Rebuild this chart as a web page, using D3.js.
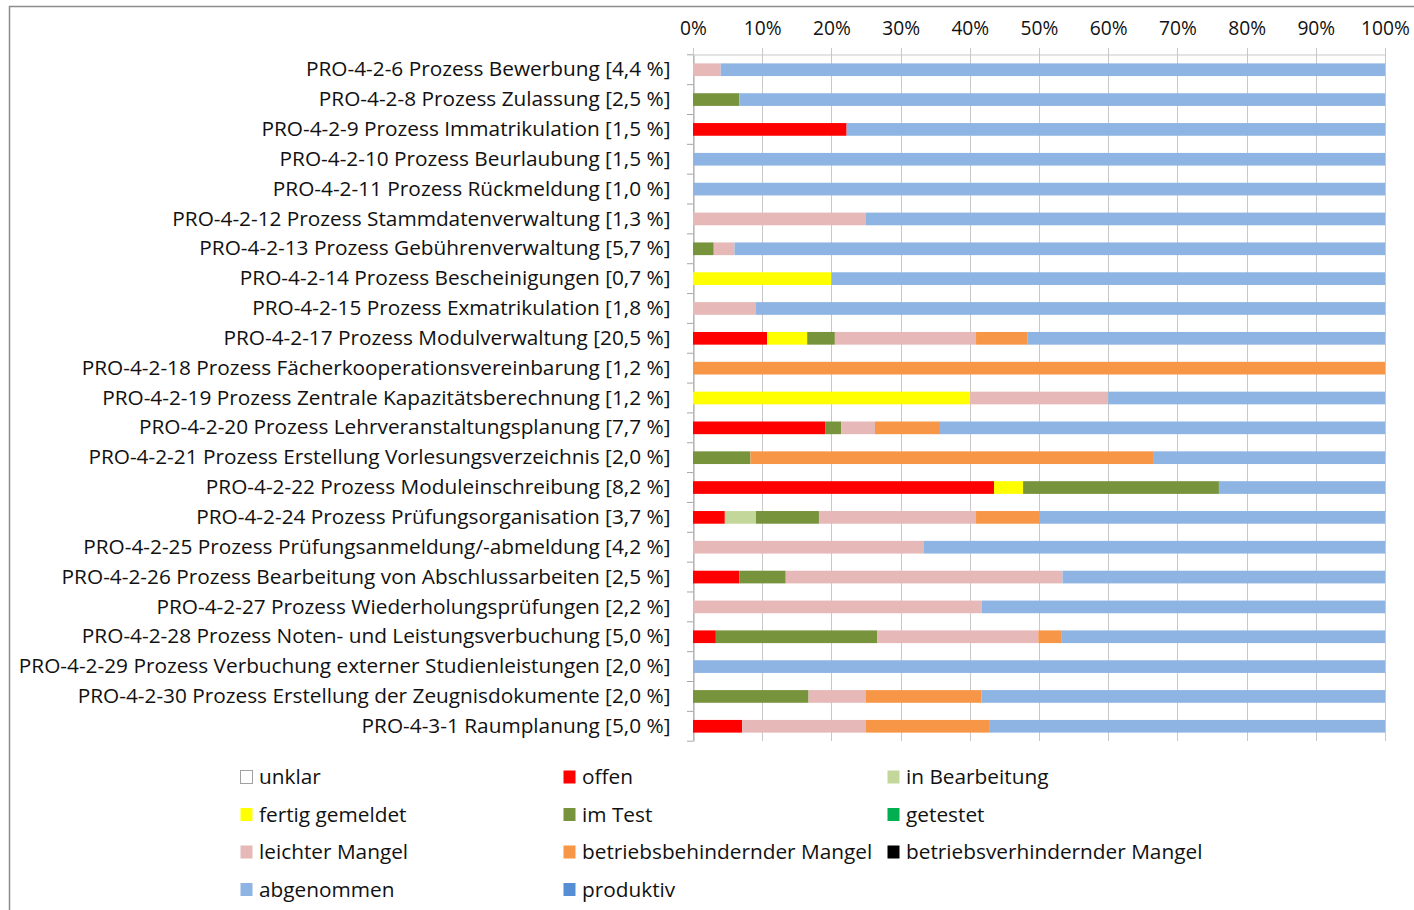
<!DOCTYPE html>
<html>
<head>
<meta charset="utf-8">
<script src="https://cdn.jsdelivr.net/npm/d3@7"></script>
<style>
body { margin: 0; background: #fff; }
text { font-family: "Open Sans", sans-serif; fill: #111; }
</style>
</head>
<body>
<script>
var w = 1414;
var h = 910;

var categories = [
    "PRO-4-2-6 Prozess Bewerbung [4,4 %]",
    "PRO-4-2-8 Prozess Zulassung [2,5 %]",
    "PRO-4-2-9 Prozess Immatrikulation [1,5 %]",
    "PRO-4-2-10 Prozess Beurlaubung [1,5 %]",
    "PRO-4-2-11 Prozess Rückmeldung [1,0 %]",
    "PRO-4-2-12 Prozess Stammdatenverwaltung [1,3 %]",
    "PRO-4-2-13 Prozess Gebührenverwaltung [5,7 %]",
    "PRO-4-2-14 Prozess Bescheinigungen [0,7 %]",
    "PRO-4-2-15 Prozess Exmatrikulation [1,8 %]",
    "PRO-4-2-17 Prozess Modulverwaltung [20,5 %]",
    "PRO-4-2-18 Prozess Fächerkooperationsvereinbarung [1,2 %]",
    "PRO-4-2-19 Prozess Zentrale Kapazitätsberechnung [1,2 %]",
    "PRO-4-2-20 Prozess Lehrveranstaltungsplanung [7,7 %]",
    "PRO-4-2-21 Prozess Erstellung Vorlesungsverzeichnis [2,0 %]",
    "PRO-4-2-22 Prozess Moduleinschreibung [8,2 %]",
    "PRO-4-2-24 Prozess Prüfungsorganisation [3,7 %]",
    "PRO-4-2-25 Prozess Prüfungsanmeldung/-abmeldung [4,2 %]",
    "PRO-4-2-26 Prozess Bearbeitung von Abschlussarbeiten [2,5 %]",
    "PRO-4-2-27 Prozess Wiederholungsprüfungen [2,2 %]",
    "PRO-4-2-28 Prozess Noten- und Leistungsverbuchung [5,0 %]",
    "PRO-4-2-29 Prozess Verbuchung externer Studienleistungen [2,0 %]",
    "PRO-4-2-30 Prozess Erstellung der Zeugnisdokumente [2,0 %]",
    "PRO-4-3-1 Raumplanung [5,0 %]"
];

// one array per status, percent of each process
var unklar         = [0,0,0,0,0,0,0,0,0,0,0,0,0,0,0,0,0,0,0,0,0,0,0];
var offen          = [0,0,22.2,0,0,0,0,0,0,10.7,0,0,19.1,0,43.5,4.6,0,6.7,0,3.3,0,0,7.1];
var inBearbeitung  = [0,0,0,0,0,0,0,0,0,0,0,0,0,0,0,4.5,0,0,0,0,0,0,0];
var fertigGemeldet = [0,0,0,0,0,0,0,20,0,5.8,0,40,0,0,4.2,0,0,0,0,0,0,0,0];
var imTest         = [0,6.7,0,0,0,0,3,0,0,4.0,0,0,2.3,8.3,28.3,9.1,0,6.7,0,23.3,0,16.7,0];
var getestet       = [0,0,0,0,0,0,0,0,0,0,0,0,0,0,0,0,0,0,0,0,0,0,0];
var leichterMangel = [4,0,0,0,0,25,3,0,9.1,20.4,0,20,4.9,0,0,22.7,33.3,40,41.7,23.3,0,8.3,17.9];
var behindernd     = [0,0,0,0,0,0,0,0,0,7.4,100,0,9.4,58.3,0,9.1,0,0,0,3.3,0,16.7,17.9];
var verhindernd    = [0,0,0,0,0,0,0,0,0,0,0,0,0,0,0,0,0,0,0,0,0,0,0];
var abgenommen     = [96,93.3,77.8,100,100,75,94,80,90.9,51.7,0,40,64.3,33.4,24.0,50,66.7,46.6,58.3,46.8,100,58.3,57.1];
var produktiv      = [0,0,0,0,0,0,0,0,0,0,0,0,0,0,0,0,0,0,0,0,0,0,0];

var statusNames = ["unklar","offen","in Bearbeitung","fertig gemeldet","im Test","getestet",
    "leichter Mangel","betriebsbehindernder Mangel","betriebsverhindernder Mangel","abgenommen","produktiv"];
var statusValues = [unklar, offen, inBearbeitung, fertigGemeldet, imTest, getestet,
    leichterMangel, behindernd, verhindernd, abgenommen, produktiv];
var statusColors = ["#ffffff","#ff0000","#c4d79b","#ffff00","#77933c","#00b050",
    "#e6b9b8","#f79646","#000000","#8db4e2","#558ed5"];

var xTicks = [0,10,20,30,40,50,60,70,80,90,100];

var table = categories.map(function(c, i){
    var row = {name: c};
    statusNames.forEach(function(s, j){ row[s] = statusValues[j][i]; });
    return row;
});

var svg = d3.select("body")
    .append("svg")
    .attr("width", w)
    .attr("height", h);

// outer frame
svg.append("rect")
    .attr("x", 9.5)
    .attr("y", 6.5)
    .attr("width", 1430)
    .attr("height", 930)
    .attr("fill", "none")
    .attr("stroke", "#8c8c8c")
    .attr("stroke-width", 1.5);

var x = d3.scaleLinear().domain([0,100]).range([693,1385]);
var y = d3.scaleBand()
    .domain(categories)
    .range([54.8, 741.2])
    .paddingInner(0.575)
    .paddingOuter(0.2875);

// vertical gridlines
svg.append("g")
    .selectAll("line")
    .data(xTicks)
    .enter()
    .append("line")
    .attr("x1", function(d){ return Math.round(x(d)) + 0.5; })
    .attr("x2", function(d){ return Math.round(x(d)) + 0.5; })
    .attr("y1", 48)
    .attr("y2", 741)
    .attr("stroke", "#c8c8c8");

// top axis
var xAxis = d3.axisTop(x)
    .tickValues(xTicks)
    .tickSize(0)
    .tickPadding(20)
    .tickFormat(function(d){ return d + "%"; });
var gx = svg.append("g")
    .attr("transform", "translate(0,54.5)")
    .call(xAxis);
gx.select(".domain").attr("stroke", "#c8c8c8");
gx.selectAll("text")
    .style("font-size", "19.2px")
    .attr("fill", "#111");

// left axis
var yAxis = d3.axisLeft(y).tickSize(0).tickPadding(23);
var gy = svg.append("g")
    .attr("transform", "translate(693.5,0)")
    .call(yAxis);
gy.select(".domain").attr("stroke", "#a6a6a6");
gy.selectAll("text")
    .style("font-size", "20.8px")
    .attr("fill", "#111");

// small ticks between categories
var bounds = categories.map(function(c){ return y(c) - y.step()*y.paddingInner()/2; });
bounds.push(y(categories[categories.length-1]) + y.bandwidth() + y.step()*y.paddingInner()/2);
svg.append("g")
    .selectAll("line")
    .data(bounds)
    .enter()
    .append("line")
    .attr("x1", 687)
    .attr("x2", 693)
    .attr("y1", function(d){ return d; })
    .attr("y2", function(d){ return d; })
    .attr("stroke", "#a6a6a6");

// stacked bars
var stack = d3.stack().keys(statusNames);
var layers = stack(table);

svg.append("g")
    .selectAll("g")
    .data(layers)
    .enter()
    .append("g")
    .attr("fill", function(d, i){ return statusColors[i]; })
    .selectAll("rect")
    .data(function(d){ return d; })
    .enter()
    .append("rect")
    .attr("x", function(d){ return x(d[0]); })
    .attr("y", function(d){ return y(d.data.name); })
    .attr("width", function(d){ return x(d[1]) - x(d[0]); })
    .attr("height", y.bandwidth());

// legend
var legCols = [240, 563, 887];
var legRows = [777, 814.5, 852, 889.5];
var leg = svg.append("g")
    .selectAll("g")
    .data(statusNames)
    .enter()
    .append("g")
    .attr("transform", function(d, i){
        return "translate(" + legCols[i % 3] + "," + legRows[Math.floor(i/3)] + ")";
    });
leg.append("rect")
    .attr("x", 0.5)
    .attr("y", -6.5)
    .attr("width", 12)
    .attr("height", 13)
    .attr("fill", function(d, i){ return statusColors[i]; })
    .attr("stroke", function(d, i){ return i == 0 ? "#a0a0a0" : "none"; });
leg.append("text")
    .attr("x", 19)
    .attr("dy", "0.35em")
    .style("font-size", "20.8px")
    .text(function(d){ return d; });
</script>
</body>
</html>
